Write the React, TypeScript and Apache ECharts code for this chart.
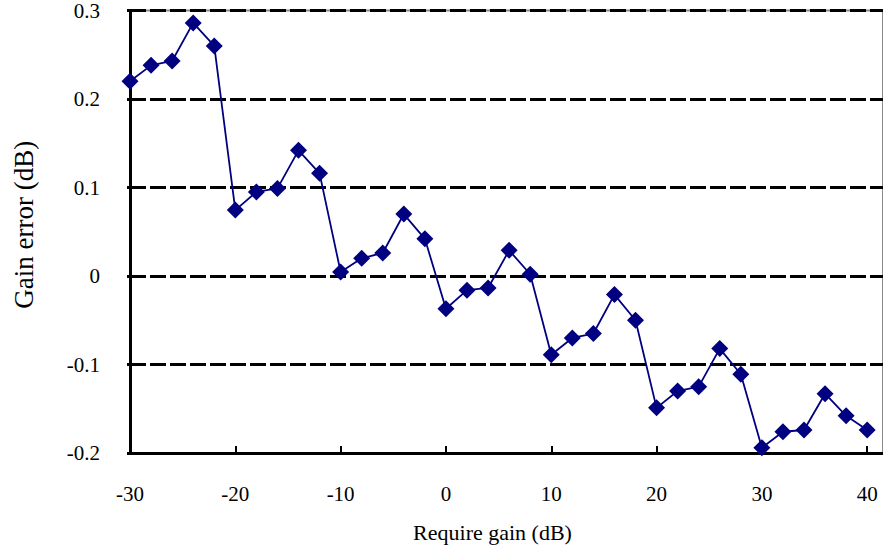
import React, { useEffect, useRef } from "react";
import * as echarts from "echarts";

const gains: number[] = [
  -30, -28, -26, -24, -22, -20, -18, -16, -14, -12, -10, -8, -6, -4, -2, 0, 2, 4,
  6, 8, 10, 12, 14, 16, 18, 20, 22, 24, 26, 28, 30, 32, 34, 36, 38, 40,
];
const gainErrors: number[] = [
  0.22, 0.238, 0.243, 0.286, 0.26, 0.0745, 0.095, 0.099, 0.142, 0.116, 0.0045,
  0.02, 0.026, 0.07, 0.042, -0.037, -0.016, -0.0135, 0.029, 0.002, -0.089, -0.07,
  -0.065, -0.021, -0.05, -0.149, -0.13, -0.125, -0.082, -0.111, -0.194, -0.176,
  -0.174, -0.133, -0.158, -0.174,
];
const xTitle = "Require gain (dB)";
const yTitle = "Gain error (dB)";

const FONT = "'Liberation Serif', 'Times New Roman', serif";

export default function App() {
  const ref = useRef<HTMLDivElement>(null);
  useEffect(() => {
    if (!ref.current) return;
    const chart = echarts.init(ref.current, null, { renderer: "svg" });
    chart.setOption({
      animation: false,
      backgroundColor: "#ffffff",
      grid: {
        left: 130,
        top: 9,
        width: 753,
        height: 444,
        show: true,
        borderColor: "#8c8c8c",
        borderWidth: 2,
        backgroundColor: "transparent",
      },
      xAxis: {
        type: "value",
        min: -30,
        max: 41.5,
        interval: 10,
        name: xTitle,
        nameLocation: "middle",
        nameGap: 68,
        nameTextStyle: {
          fontFamily: FONT,
          fontSize: 22,
          color: "#000",
          padding: [0, 28, 0, 0],
        },
        axisLine: { show: true, onZero: false, lineStyle: { color: "#000", width: 3 } },
        axisTick: { show: true, inside: true, length: 7, lineStyle: { color: "#000", width: 2 } },
        axisLabel: {
          showMaxLabel: false,
          margin: 30,
          fontFamily: FONT,
          fontSize: 21,
          color: "#000",
        },
        splitLine: { show: false },
      },
      yAxis: {
        type: "value",
        min: -0.2,
        max: 0.3,
        interval: 0.1,
        name: yTitle,
        nameLocation: "middle",
        nameGap: 93,
        nameTextStyle: {
          fontFamily: FONT,
          fontSize: 27,
          color: "#000",
          padding: [0, 0, 0, 14],
        },
        axisLine: { show: true, onZero: false, lineStyle: { color: "#000", width: 3 } },
        axisTick: { show: true, inside: false, length: 3, lineStyle: { color: "#000", width: 3 } },
        axisLabel: {
          margin: 30,
          fontFamily: FONT,
          fontSize: 21,
          color: "#000",
          padding: [6, 0, 0, 0],
          formatter: (v: number) => String(Math.round(v * 10) / 10),
        },
        splitLine: {
          show: true,
          lineStyle: { color: "#000", width: 3, type: [16, 4] },
        },
      },
      series: [
        {
          type: "line",
          data: gains.map((g, i) => [g, gainErrors[i]]),
          symbol: "diamond",
          symbolSize: 17,
          showSymbol: true,
          color: "#000080",
          itemStyle: { color: "#000080" },
          lineStyle: { color: "#000080", width: 1.8 },
          z: 5,
        },
      ],
    });
    return () => chart.dispose();
  }, []);
  return (
    <div
      ref={ref}
      style={{ position: "fixed", left: 0, top: 0, width: 883, height: 552, background: "#fff" }}
    />
  );
}
